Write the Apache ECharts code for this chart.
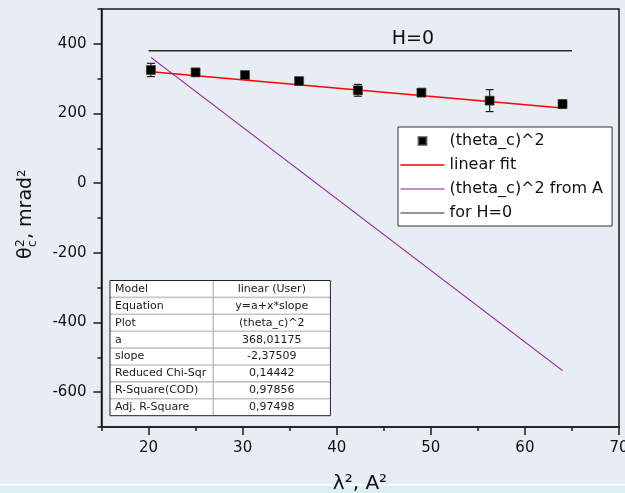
<!DOCTYPE html>
<html>
<head>
<meta charset="utf-8">
<script src="https://cdn.jsdelivr.net/npm/echarts@6/dist/echarts.min.js"></script>
<style>
  html, body { margin: 0; padding: 0; background: #e8ecf3; }
  #chart { width: 625px; height: 493px; }
</style>
</head>
<body>
<div id="chart"></div>
<script>
// Measured critical-angle data: x = lambda^2 (A^2), y = theta_c^2 (mrad^2)
const lambdaSq = [20.25, 25, 30.25, 36, 42.25, 49, 56.25, 64];
const thetaSq  = [325, 318, 310.5, 293, 266.5, 260, 237, 227];
const thetaErr = [19, 5, 5, 4, 17, 5, 31.5, 12];

// Linear fit parameters y = a + x*slope
const fitA = 368.01175;
const fitSlope = -2.37509;
const fitRange = [20.25, 64];

// Theoretical curve computed from A (end points)
const fromAX = [20.25, 64];
const fromAY = [361, -538];

// Reference level for H = 0
const h0X = [20, 65];
const h0Y = 380;
const h0LabelX = 48.1;

// Fit statistics table
const tableLabels = ['Model', 'Equation', 'Plot', 'a', 'slope', 'Reduced Chi-Sqr', 'R-Square(COD)', 'Adj. R-Square'];
const fmt = v => v.toFixed(5).replace('.', ',');
const tableValues = ['linear (User)', 'y=a+x*slope', '(theta_c)^2', fmt(fitA), fmt(fitSlope), '0,14442', '0,97856', '0,97498'];

// Axis ticks
const xMajor = [20, 30, 40, 50, 60, 70];
const xMinor = [15, 25, 35, 45, 55, 65];
const yMajor = [-600, -400, -200, 0, 200, 400];
const yMinor = [-700, -500, -300, -100, 100, 300, 500];

const legendNames = ['(theta_c)^2', 'linear fit', '(theta_c)^2 from A', 'for H=0'];

const FONT = '"DejaVu Sans", sans-serif';
const INK = '#111';
const AXIS = '#1a1a1a';

const chart = echarts.init(document.getElementById('chart'), null, { renderer: 'canvas' });

// Table built as graphic elements
function buildTable() {
  const w = 220.4, rowH = 16.9, colX = 103.2;
  const h = rowH * tableLabels.length;
  const children = [
    { type: 'rect', shape: { x: 0, y: 0, width: w, height: h }, style: { fill: '#fff', stroke: 'none' } }
  ];
  for (let i = 1; i < tableLabels.length; i++) {
    children.push({ type: 'line', shape: { x1: 0, y1: i * rowH, x2: w, y2: i * rowH },
      style: { stroke: '#c6c6c6', lineWidth: 1.6 } });
  }
  children.push({ type: 'line', shape: { x1: colX, y1: 0, x2: colX, y2: h }, style: { stroke: '#a0a0a0', lineWidth: 1 } });
  children.push({ type: 'rect', shape: { x: 0, y: 0, width: w, height: h }, style: { fill: 'none', stroke: '#222', lineWidth: 1 } });
  tableLabels.forEach((t, i) => {
    children.push({ type: 'text', style: { text: t, x: 5, y: i * rowH + rowH / 2, font: '11px ' + FONT, fill: '#1a1a1a', align: 'left', verticalAlign: 'middle' } });
    children.push({ type: 'text', style: { text: tableValues[i], x: (colX + w) / 2, y: i * rowH + rowH / 2, font: '11px ' + FONT, fill: '#1a1a1a', align: 'center', verticalAlign: 'middle' } });
  });
  return { type: 'group', x: 110, y: 280.5, z: 50, children };
}

// Rotated y-axis title: theta with stacked superscript 2 / subscript c
const yTitle = {
  type: 'group', x: 33, y: 259, rotation: Math.PI / 2, z: 50,
  children: [
    { type: 'text', style: { text: 'θ', x: 0, y: -6.6, font: '19px ' + FONT, fill: INK, align: 'left', verticalAlign: 'middle' } },
    { type: 'text', style: { text: '2', x: 12, y: -12.2, font: '12px ' + FONT, fill: INK, align: 'left', verticalAlign: 'middle' } },
    { type: 'text', style: { text: 'c', x: 12, y: -0.6, font: '12px ' + FONT, fill: INK, align: 'left', verticalAlign: 'middle' } },
    { type: 'text', style: { text: ', mrad²', x: 20, y: -6.6, font: '19px ' + FONT, fill: INK, align: 'left', verticalAlign: 'middle' } }
  ]
};

// Legend icons: a square for the scatter, thin strokes for the lines
const squareIcon = 'path://M0,0H1V1H0Z';
const lineIcon = w => 'path://M0,0H44V' + w + 'H0Z';

const option = {
  backgroundColor: '#e8ecf3',
  animation: false,
  grid: {
    left: 101.5, right: 6, top: 9, bottom: 66,
    containLabel: false, outerBoundsMode: 'none',
    show: true, borderColor: AXIS, borderWidth: 1.5, backgroundColor: 'transparent'
  },
  legend: {
    orient: 'vertical', left: 398, top: 127,
    data: [
      { name: legendNames[0], icon: squareIcon },
      { name: legendNames[1], icon: lineIcon(1.5) },
      { name: legendNames[2], icon: lineIcon(1.1) },
      { name: legendNames[3], icon: lineIcon(1.2) }
    ],
    symbolKeepAspect: true,
    backgroundColor: '#fff', borderColor: '#333', borderWidth: 1,
    padding: [6, 9, 5, 2.5],
    itemWidth: 44, itemHeight: 8, itemGap: 8,
    textStyle: { fontFamily: FONT, fontSize: 16, color: INK, lineHeight: 16 }
  },
  xAxis: [
    {
      type: 'value', min: 15, max: 70, gridIndex: 0, position: 'bottom',
      splitLine: { show: false },
      axisLine: { show: true, onZero: false, lineStyle: { color: AXIS, width: 1.5 } },
      axisTick: { show: true, inside: false, length: 8, customValues: xMajor, lineStyle: { color: AXIS, width: 1.5 } },
      axisLabel: { show: true, customValues: xMajor, margin: 14, fontFamily: FONT, fontSize: 15, color: INK }
    },
    {
      type: 'value', min: 15, max: 70, gridIndex: 0, position: 'bottom',
      splitLine: { show: false },
      axisLine: { show: false, onZero: false },
      axisTick: { show: true, inside: false, length: 4, customValues: xMinor, lineStyle: { color: AXIS, width: 1.5 } },
      axisLabel: { show: false }
    }
  ],
  yAxis: [
    {
      type: 'value', min: -700, max: 500, gridIndex: 0, position: 'left',
      splitLine: { show: false },
      axisLine: { show: true, onZero: false, lineStyle: { color: AXIS, width: 1.5 } },
      axisTick: { show: true, inside: false, length: 8, customValues: yMajor, lineStyle: { color: AXIS, width: 1.5 } },
      axisLabel: { show: true, customValues: yMajor, margin: 15, fontFamily: FONT, fontSize: 15, color: INK }
    },
    {
      type: 'value', min: -700, max: 500, gridIndex: 0, position: 'left',
      splitLine: { show: false },
      axisLine: { show: false, onZero: false },
      axisTick: { show: true, inside: false, length: 4, customValues: yMinor, lineStyle: { color: AXIS, width: 1.5 } },
      axisLabel: { show: false }
    }
  ],
  series: [
    {
      name: '(theta_c)^2', type: 'scatter', xAxisIndex: 0, yAxisIndex: 0,
      symbol: 'rect', symbolSize: 9, z: 6,
      itemStyle: { color: '#000', borderColor: 'rgba(70,70,70,0.7)', borderWidth: 1, opacity: 1 },
      data: lambdaSq.map((x, i) => [x, thetaSq[i]])
    },
    {
      name: 'error', type: 'custom', xAxisIndex: 0, yAxisIndex: 0, z: 5,
      encode: { x: 0, y: [1] },
      data: lambdaSq.map((x, i) => [x, thetaSq[i], thetaErr[i]]),
      renderItem(params, api) {
        const x = api.value(0), y = api.value(1), e = api.value(2);
        const top = api.coord([x, y + e]);
        const bot = api.coord([x, y - e]);
        const hw = 4;
        const st = { stroke: '#222', lineWidth: 1.2 };
        return {
          type: 'group',
          children: [
            { type: 'line', shape: { x1: top[0], y1: top[1], x2: bot[0], y2: bot[1] }, style: st },
            { type: 'line', shape: { x1: top[0] - hw, y1: top[1], x2: top[0] + hw, y2: top[1] }, style: st },
            { type: 'line', shape: { x1: bot[0] - hw, y1: bot[1], x2: bot[0] + hw, y2: bot[1] }, style: st }
          ]
        };
      }
    },
    {
      name: 'linear fit', type: 'line', xAxisIndex: 0, yAxisIndex: 0, z: 4,
      symbol: 'none', smooth: false,
      lineStyle: { color: '#ff0000', width: 1.5 }, itemStyle: { color: '#ff0000' },
      data: fitRange.map(x => [x, fitA + fitSlope * x])
    },
    {
      name: '(theta_c)^2 from A', type: 'line', xAxisIndex: 0, yAxisIndex: 0, z: 3,
      symbol: 'none',
      lineStyle: { color: '#8e1a9e', width: 1.1 }, itemStyle: { color: '#8e1a9e' },
      data: fromAX.map((x, i) => [x, fromAY[i]])
    },
    {
      name: 'for H=0', type: 'line', xAxisIndex: 0, yAxisIndex: 0, z: 3,
      symbol: 'none',
      lineStyle: { color: '#2a2a2a', width: 1.5 }, itemStyle: { color: '#2a2a2a' },
      data: h0X.map(x => [x, h0Y]),
      markPoint: {
        symbol: 'rect', symbolSize: 1, silent: true,
        itemStyle: { color: 'rgba(0,0,0,0)' },
        label: { show: true, formatter: 'H=0', position: 'inside', offset: [0, -11.5], fontFamily: FONT, fontSize: 19, color: INK },
        data: [{ coord: [h0LabelX, h0Y] }]
      }
    }
  ],
  graphic: [
    buildTable(),
    yTitle,
    { type: 'rect', z: 40, shape: { x: 0, y: 484, width: 625, height: 9 }, style: { fill: '#dcf0f4' } },
    { type: 'rect', z: 41, shape: { x: 0, y: 484, width: 625, height: 1.5 }, style: { fill: '#ffffff' } },
    { type: 'text', z: 60, style: { text: 'λ², A²', x: 360, y: 484, font: '20px ' + FONT, fill: INK, align: 'center', verticalAlign: 'middle' } }
  ]
};

chart.setOption(option);
</script>
</body>
</html>
